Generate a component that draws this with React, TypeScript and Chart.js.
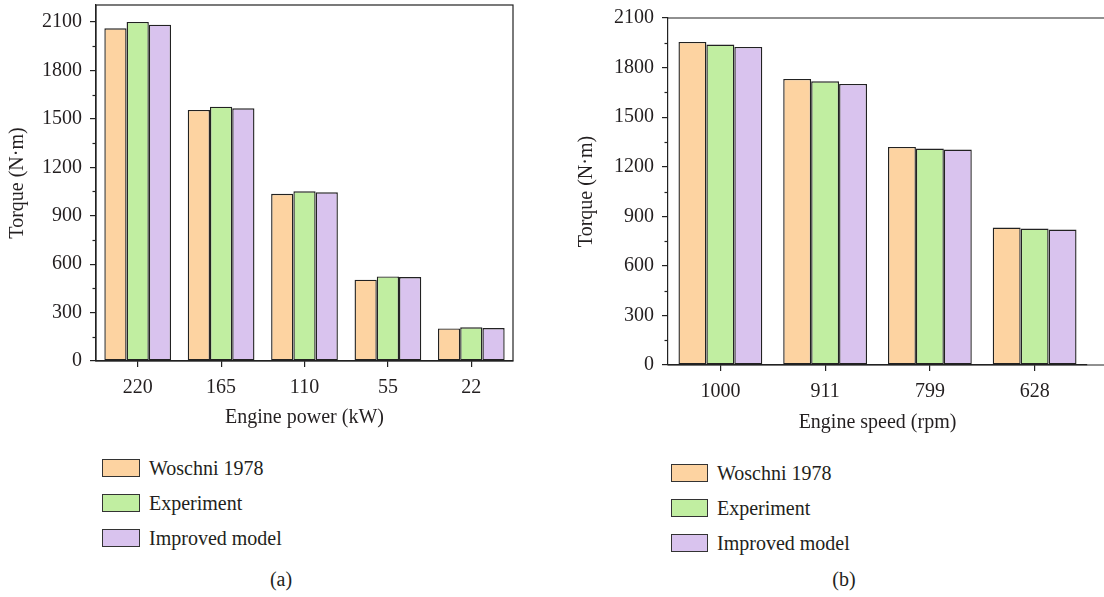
import React, { useEffect, useRef } from "react";
import { Chart, registerables } from "chart.js";

Chart.register(...registerables);

const seriesNames = ["Woschni 1978", "Experiment", "Improved model"];
const seriesColors = ["#FDD3A1", "#C1EEA1", "#D9C3EE"];

const powerCategories = ["220", "165", "110", "55", "22"];
const powerWoschni = [2061, 1555, 1036, 504, 202];
const powerExperiment = [2100, 1575, 1051, 524, 209];
const powerImproved = [2083, 1565, 1045, 520, 204];

const speedCategories = ["1000", "911", "799", "628"];
const speedWoschni = [1955, 1731, 1320, 832];
const speedExperiment = [1939, 1717, 1310, 826];
const speedImproved = [1925, 1701, 1304, 820];

const torqueTicks = [0, 300, 600, 900, 1200, 1500, 1800, 2100];
const torqueMinorTicks = [150, 450, 750, 1050, 1350, 1650, 1950];

const FONT = "'Liberation Serif', 'DejaVu Serif', serif";
const TEXT = "#231f20";
const LINE = "#222";

type PanelProps = {
  left: number;
  width: number;
  height: number;
  categories: string[];
  series: number[][];
  yMax: number;
  xTitle: string;
  axisWidth: number;
  xAxisHeight: number;
  padTop: number;
  padRight: number;
  titlePadBottom: number;
  yTitlePad: number;
  fullFrame: boolean;
};

function Panel(p: PanelProps) {
  const ref = useRef<HTMLCanvasElement | null>(null);
  useEffect(() => {
    if (!ref.current) return;
    const framePlugin = {
      id: "frame",
      afterDraw(chart: any) {
        const { ctx, chartArea } = chart;
        const y = chart.scales.y;
        ctx.save();
        ctx.strokeStyle = LINE;
        ctx.lineWidth = 1.2;
        for (const v of torqueMinorTicks) {
          const py = Math.round(y.getPixelForValue(v)) + 0.5;
          ctx.beginPath();
          ctx.moveTo(chartArea.left - 3.5, py);
          ctx.lineTo(chartArea.left, py);
          ctx.stroke();
        }
        if (p.fullFrame) {
          ctx.strokeRect(chartArea.left, chartArea.top, chartArea.right - chartArea.left, chartArea.bottom - chartArea.top);
        } else {
          ctx.beginPath();
          ctx.moveTo(chartArea.left, chartArea.top);
          ctx.lineTo(chart.width, chartArea.top);
          ctx.moveTo(chartArea.left, chartArea.bottom);
          ctx.lineTo(chart.width, chartArea.bottom);
          ctx.stroke();
        }
        ctx.restore();
      },
    };
    const chart = new Chart(ref.current, {
      type: "bar",
      data: {
        labels: p.categories,
        datasets: p.series.map((d, i) => ({
          label: seriesNames[i],
          data: d,
          backgroundColor: seriesColors[i],
          borderColor: LINE,
          borderWidth: 1.4,
          borderSkipped: false,
          categoryPercentage: 0.8,
          barPercentage: 1.0,
        })),
      },
      options: {
        animation: false,
        responsive: false,
        maintainAspectRatio: false,
        layout: { padding: { top: p.padTop, right: p.padRight, left: 0, bottom: 0 } },
        plugins: { legend: { display: false }, tooltip: { enabled: false } },
        scales: {
          x: {
            offset: true,
            grid: { offset: false, drawOnChartArea: false, drawTicks: true, tickLength: 6, color: LINE, lineWidth: 1.2 },
            border: { color: LINE, width: 1.2 },
            ticks: { color: TEXT, font: { family: FONT, size: 20 }, padding: 9 },
            title: { display: true, text: p.xTitle, color: TEXT, font: { family: FONT, size: 20 }, padding: { top: 0, bottom: p.titlePadBottom } },
            afterFit: (s: any) => { s.height = p.xAxisHeight; s.paddingLeft = 0; s.paddingRight = 0; },
          },
          y: {
            min: 0,
            max: p.yMax,
            afterBuildTicks: (s: any) => { s.ticks = torqueTicks.map((v) => ({ value: v })); },
            grid: { drawOnChartArea: false, drawTicks: true, tickLength: 6, color: LINE, lineWidth: 1.2 },
            border: { color: LINE, width: 1.2 },
            ticks: {
              color: TEXT,
              font: { family: FONT, size: 20 },
              padding: 8,
              callback: (v: any) => String(v),
            },
            title: { display: true, text: "Torque (N·m)", color: TEXT, font: { family: FONT, size: 20 }, padding: { top: p.yTitlePad, bottom: 0 } },
            afterFit: (s: any) => { s.width = p.axisWidth; s.paddingTop = 0; s.paddingBottom = 0; },
          },
        },
      },
      plugins: [framePlugin],
    });
    return () => chart.destroy();
  }, []);
  return (
    <canvas
      ref={ref}
      width={p.width}
      height={p.height}
      style={{ position: "absolute", left: p.left, top: 0, width: p.width, height: p.height }}
    />
  );
}

function Legend({ left, top, gap, boxW, boxH }: { left: number; top: number; gap: number; boxW: number; boxH: number }) {
  return (
    <div style={{ position: "absolute", left, top }}>
      {seriesNames.map((n, i) => (
        <div key={n} style={{ position: "absolute", left: 0, top: i * gap, height: boxH, display: "flex", alignItems: "center", whiteSpace: "nowrap" }}>
          <div style={{ width: boxW, height: boxH, boxSizing: "border-box", background: seriesColors[i], border: `1.5px solid #333` }} />
          <span style={{ marginLeft: 9, fontFamily: FONT, fontSize: 20, color: TEXT, lineHeight: "20px" }}>{n}</span>
        </div>
      ))}
    </div>
  );
}

export default function App() {
  return (
    <div style={{ position: "absolute", left: 0, top: 0, width: 1104, height: 597, overflow: "hidden", background: "#fff" }}>
      <Panel
        left={0}
        width={560}
        height={440}
        categories={powerCategories}
        series={[powerWoschni, powerExperiment, powerImproved]}
        yMax={2205}
        xTitle="Engine power (kW)"
        axisWidth={96}
        xAxisHeight={79}
        padTop={5}
        padRight={47}
        titlePadBottom={10}
        yTitlePad={6}
        fullFrame={true}
      />
      <Panel
        left={560}
        width={544}
        height={440}
        categories={speedCategories}
        series={[speedWoschni, speedExperiment, speedImproved]}
        yMax={2100}
        xTitle="Engine speed (rpm)"
        axisWidth={108}
        xAxisHeight={75}
        padTop={18}
        padRight={17}
        titlePadBottom={5}
        yTitlePad={15}
        fullFrame={false}
      />
      <Legend left={102} top={459} gap={35} boxW={38} boxH={18} />
      <Legend left={671} top={464} gap={35} boxW={37} boxH={18} />
      <div style={{ position: "absolute", left: 231, width: 100, top: 568, textAlign: "center", fontFamily: FONT, fontSize: 20, color: TEXT }}>(a)</div>
      <div style={{ position: "absolute", left: 794, width: 100, top: 568, textAlign: "center", fontFamily: FONT, fontSize: 20, color: TEXT }}>(b)</div>
    </div>
  );
}
